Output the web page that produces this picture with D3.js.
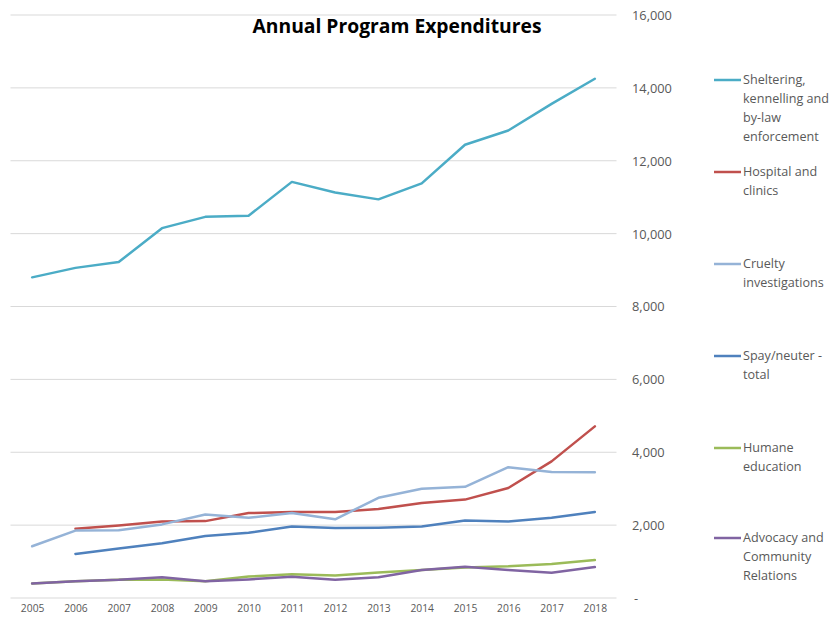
<!DOCTYPE html>
<html>
<head>
<meta charset="utf-8">
<script src="https://cdn.jsdelivr.net/npm/d3@7"></script>
<style>
  html, body { margin: 0; padding: 0; background: #fff; }
  svg { display: block; }
</style>
</head>
<body>
<svg id="chart" width="833" height="619"></svg>
<script>
// Years on the category axis
const years = ["2005","2006","2007","2008","2009","2010","2011","2012","2013","2014","2015","2016","2017","2018"];

// Annual expenditures per program (null where no value was reported)
const sheltering = [8800, 9060, 9220, 10150, 10460, 10490, 11420, 11130, 10940, 11380, 12440, 12830, 13560, 14250];
const hospital   = [null, 1900, 1990, 2100, 2110, 2330, 2360, 2360, 2440, 2610, 2700, 3020, 3750, 4710];
const cruelty    = [1420, 1850, 1860, 2020, 2290, 2200, 2330, 2160, 2750, 3000, 3050, 3590, 3460, 3450];
const spay       = [null, 1210, 1360, 1500, 1700, 1790, 1960, 1920, 1930, 1960, 2130, 2100, 2200, 2360];
const humane     = [400, 460, 500, 510, 460, 590, 650, 620, 700, 770, 840, 870, 930, 1040];
const advocacy   = [400, 460, 500, 570, 460, 510, 580, 500, 570, 770, 860, 770, 690, 850];

const seriesNames = [
  "Sheltering, kennelling and by-law enforcement",
  "Hospital and clinics",
  "Cruelty investigations",
  "Spay/neuter - total",
  "Humane education",
  "Advocacy and Community Relations"
];
const seriesColors = ["#4bacc6", "#c0504d", "#95b3d7", "#4f81bd", "#9bbb59", "#8064a2"];
// Legend entries are wrapped onto several lines
const legendLines = [
  ["Sheltering,", "kennelling and", "by-law", "enforcement"],
  ["Hospital and", "clinics"],
  ["Cruelty", "investigations"],
  ["Spay/neuter -", "total"],
  ["Humane", "education"],
  ["Advocacy and", "Community", "Relations"]
];

const yTicks = [0, 2000, 4000, 6000, 8000, 10000, 12000, 14000, 16000];
const title = "Annual Program Expenditures";

const seriesValues = [sheltering, hospital, cruelty, spay, humane, advocacy];
const seriesData = seriesNames.map((name, i) => ({
  name, color: seriesColors[i], lines: legendLines[i],
  values: years.map((y, j) => ({ year: y, value: seriesValues[i][j] }))
}));

const svg = d3.select("#chart");
const FONT = "'Open Sans', Lato, sans-serif";
const plot = { left: 10.5, right: 616.5, top: 15, bottom: 598 };

const x = d3.scalePoint().domain(years).range([plot.left, plot.right]).padding(0.5);
const y = d3.scaleLinear().domain([0, 16000]).range([plot.bottom, plot.top]);

// Horizontal gridlines
svg.append("g")
  .selectAll("line")
  .data(yTicks)
  .join("line")
  .attr("x1", plot.left).attr("x2", plot.right)
  .attr("y1", d => y(d)).attr("y2", d => y(d))
  .attr("stroke", "#d9d9d9").attr("stroke-width", 1);

// Value axis on the right
const yAxis = d3.axisRight(y)
  .tickValues(yTicks)
  .tickSize(0)
  .tickPadding(0)
  .tickFormat(d => d === 0 ? "-" : d3.format(",")(d));
svg.append("g")
  .attr("transform", `translate(632,0)`)
  .call(yAxis)
  .call(g => g.select(".domain").remove())
  .call(g => g.selectAll("text")
    .attr("fill", "#595959")
    .attr("font-family", FONT)
    .attr("font-size", 12.8)
    .attr("dy", "0.35em")
    .attr("x", d => d === 0 ? 2 : 0));

// Category axis
const xAxis = d3.axisBottom(x).tickSize(0).tickPadding(0);
svg.append("g")
  .attr("transform", `translate(0,605)`)
  .call(xAxis)
  .call(g => g.select(".domain").remove())
  .call(g => g.selectAll("text")
    .attr("fill", "#595959")
    .attr("font-family", FONT)
    .attr("font-size", 10.3)
    .attr("dy", "0.71em"));

// Series lines
const line = d3.line()
  .defined(d => d.value != null)
  .x(d => x(d.year))
  .y(d => y(d.value));

svg.append("g")
  .selectAll("path")
  .data(seriesData)
  .join("path")
  .attr("d", d => line(d.values))
  .attr("fill", "none")
  .attr("stroke", d => d.color)
  .attr("stroke-width", 2.5)
  .attr("stroke-linejoin", "round")
  .attr("stroke-linecap", "round");

// Title
svg.append("text")
  .attr("x", 397).attr("y", 28)
  .attr("text-anchor", "middle")
  .attr("dominant-baseline", "middle")
  .attr("font-family", FONT)
  .attr("font-weight", "bold")
  .attr("font-size", 19.3)
  .attr("fill", "#000")
  .text(title);

// Legend
const legendY = [80, 172, 264, 356, 448, 538];
const lg = svg.append("g")
  .selectAll("g")
  .data(seriesData)
  .join("g")
  .attr("transform", (d, i) => `translate(714,${legendY[i]})`);
lg.append("line")
  .attr("x1", 0).attr("x2", 27)
  .attr("y1", 0).attr("y2", 0)
  .attr("stroke", d => d.color)
  .attr("stroke-width", 2.5);
lg.append("text")
  .attr("font-family", FONT)
  .attr("font-size", 12.6)
  .attr("fill", "#595959")
  .selectAll("tspan")
  .data(d => d.lines)
  .join("tspan")
  .attr("x", 29)
  .attr("y", (d, i) => i * 18.7)
  .attr("dy", "0.35em")
  .text(d => d);
</script>
</body>
</html>
